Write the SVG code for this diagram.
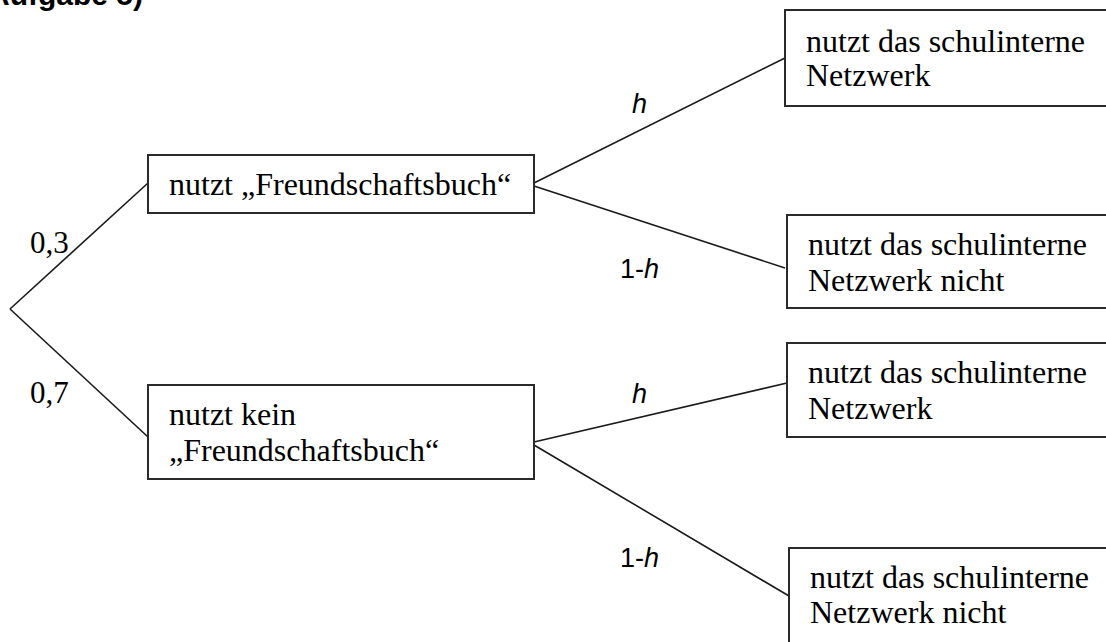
<svg xmlns="http://www.w3.org/2000/svg" width="1106" height="642" viewBox="0 0 1106 642">
<style>
.box{fill:#fff;stroke:#2a2a2a;stroke-width:2}
.t{font-family:"Liberation Serif","Times New Roman",serif;font-size:32px;fill:#000}
.p{font-family:"Liberation Sans",Arial,sans-serif;font-size:27px;fill:#000}
.e{font-family:"Liberation Serif","Times New Roman",serif;font-size:31px;fill:#000}
.title{font-family:"Liberation Sans",Arial,sans-serif;font-size:30px;font-weight:bold;fill:#000}
#connectors line{stroke:#1a1a1a;stroke-width:1.6}
</style>
<rect width="1106" height="642" fill="#fff"/>
<text class="title" x="143" y="5" text-anchor="end">Aufgabe 5)</text>
<g id="connectors">
<line x1="10" y1="309" x2="148" y2="183"/>
<line x1="10" y1="309" x2="148" y2="437"/>
<line x1="534" y1="183" x2="785" y2="58"/>
<line x1="534" y1="186" x2="785" y2="268"/>
<line x1="534" y1="442" x2="787" y2="383"/>
<line x1="534" y1="445" x2="789" y2="596"/>
</g>
<g id="labels">
<text class="e" x="30" y="253">0,3</text>
<text class="e" x="30" y="403">0,7</text>
<text class="p" x="632" y="113" font-style="italic">h</text>
<text class="p" x="620" y="278">1-<tspan font-style="italic">h</tspan></text>
<text class="p" x="632" y="403" font-style="italic">h</text>
<text class="p" x="620" y="567">1-<tspan font-style="italic">h</tspan></text>
</g>
<g id="n1">
<rect class="box" x="148" y="155" width="386" height="58"/>
<text class="t" x="169" y="195">nutzt „Freundschaftsbuch“</text>
</g>
<g id="n2">
<rect class="box" x="148" y="385" width="386" height="94"/>
<text class="t" x="169" y="425">nutzt kein</text>
<text class="t" x="169" y="461">„Freundschaftsbuch“</text>
</g>
<g id="n11">
<rect class="box" x="785" y="10" width="340" height="96"/>
<text class="t" x="806" y="52">nutzt das schulinterne</text>
<text class="t" x="806" y="86">Netzwerk</text>
</g>
<g id="n12">
<rect class="box" x="787" y="215" width="340" height="93"/>
<text class="t" x="808" y="255">nutzt das schulinterne</text>
<text class="t" x="808" y="291">Netzwerk nicht</text>
</g>
<g id="n21">
<rect class="box" x="787" y="343" width="340" height="94"/>
<text class="t" x="808" y="383">nutzt das schulinterne</text>
<text class="t" x="808" y="419">Netzwerk</text>
</g>
<g id="n22">
<rect class="box" x="789" y="548" width="340" height="110"/>
<text class="t" x="810" y="588">nutzt das schulinterne</text>
<text class="t" x="810" y="623">Netzwerk nicht</text>
</g>
</svg>
